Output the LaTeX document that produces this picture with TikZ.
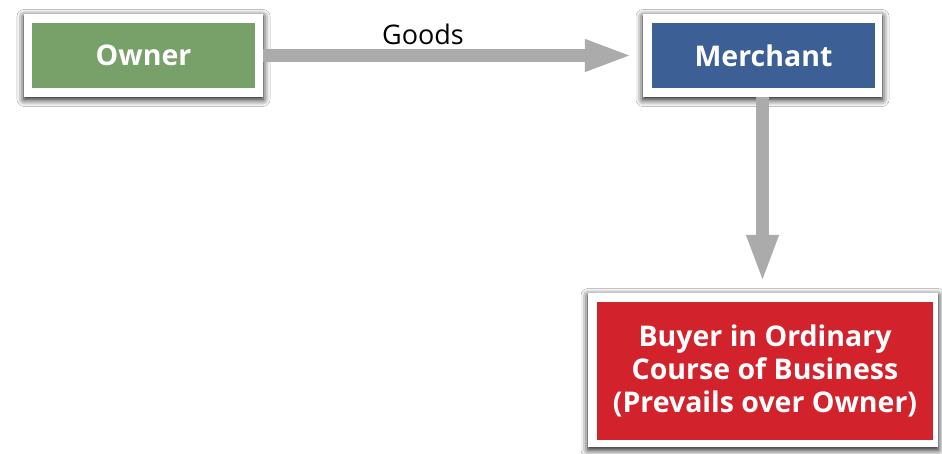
\documentclass[tikz,border=0pt]{standalone}
\usepackage{fontspec}
\setmainfont{Open Sans}
\usetikzlibrary{shadows.blur,arrows.meta,calc}
\definecolor{ownerG}{HTML}{78A069}
\definecolor{merchB}{HTML}{3C5F96}
\definecolor{buyerR}{HTML}{D2232D}
\definecolor{arrowC}{HTML}{ABABAB}
\tikzset{
  frame/.style={fill=white, draw=none, inner sep=0pt,
    blur shadow={shadow xshift=0pt, shadow yshift=-2.5pt, shadow blur radius=7pt, shadow opacity=100, shadow blur extra rounding=0pt}},
  box/.style={draw=none, inner sep=0pt, text=white, font=\bfseries\fontsize{28.5}{33}\selectfont, align=center},
  conn/.style={draw=arrowC, line width=13pt, -{Triangle[length=48pt,width=29pt]}, shorten >=10pt},
}
\begin{document}
\begin{tikzpicture}[x=1pt,y=-1pt]
\useasboundingbox[fill=white] (0,0) rectangle (942,454);
\node[frame, minimum width=239pt, minimum height=83pt] (ownerF) at (143.5,55.5) {};
\node[box, fill=ownerG, minimum width=223pt, minimum height=65pt] (owner) at (143.5,55.5) {Owner};
\node[frame, minimum width=239pt, minimum height=83pt] (merchF) at (762.5,55.5) {};
\node[box, fill=merchB, minimum width=223pt, minimum height=65pt] (merch) at (763.5,55.5) {Merchant};
\node[frame, minimum width=350pt, minimum height=154pt] (buyerF) at (763,370) {};
\node[box, fill=buyerR, minimum width=336pt, minimum height=138pt] (buyer) at (765,371) {Buyer in Ordinary\\Course of Business\\(Prevails over Owner)};
\draw[conn] (ownerF.east) -- (merchF.west);
\draw[conn] (merchF.south) -- (merchF.south |- buyerF.north);
\node[font=\fontsize{27}{30}\selectfont, inner sep=0pt] (goods) at (423,34) {Goods};
\end{tikzpicture}
\end{document}
